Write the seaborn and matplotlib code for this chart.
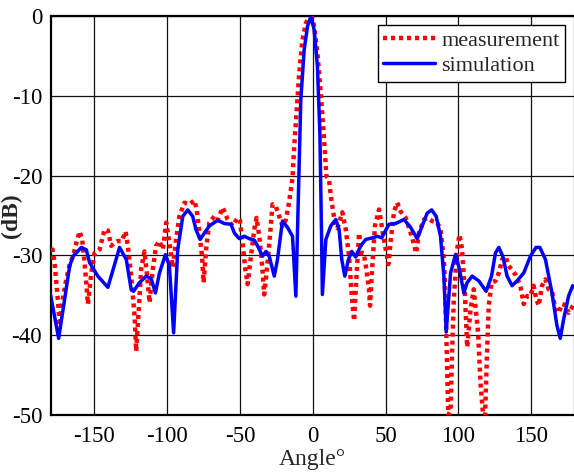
import numpy as np
import pandas as pd
import matplotlib
matplotlib.use("Agg")
import matplotlib.pyplot as plt
import seaborn as sns

# ---- data ----
sim_angle = [-180, -174.4, -166.8, -164.5, -158.8, -155.4, -153.2, -147.5, -140.6, -132.6, -128, -124.6, -123.0,
             -118.9, -114.3, -110.9, -108, -105.2, -101.1, -98.4, -95.5, -92.7, -89.2, -85.8, -82.4, -80.1, -77.3,
             -74.4, -70.9, -65.3, -60.7, -56.1, -53.8, -50.4, -47.0, -43.6, -40.1, -37.9, -34.5, -32.1, -29.9, -26.4,
             -24.2, -20.8, -17.3, -13.9, -11.6, -10.5, -8.2, -5.9, -3.6, -1.3, 1.0, 3.2, 4.9, 6.0, 6.6, 9.0, 12.4,
             15.8, 18.1, 19.9, 22.0, 24.5, 26.8, 29.5, 32.9, 36.4, 40.9, 44.3, 47.3, 52.3, 56.9, 62.6, 67.2, 71.7,
             75.1, 78.6, 81.6, 84.7, 87.7, 90.0, 91.6, 94.6, 98.0, 100.7, 103.7, 106.0, 109.4, 114.0, 119.0, 122.7,
             125.4, 127.7, 130.4, 133.4, 136.8, 140.2, 144.8, 149.4, 153.2, 155.9, 159.7, 164.2, 167.6, 169.9,
             172.2, 175.6, 178.4, 180]
sim_db = [-34.9, -40.4, -31.3, -30.1, -29.0, -29.3, -30.9, -32.6, -34.0, -29.0, -30.5, -34.3, -34.5,
          -33.4, -32.6, -32.9, -34.7, -32.2, -29.9, -31.3, -39.7, -29.3, -25.1, -24.3, -25.1, -26.8, -28.0,
          -27.2, -26.3, -25.6, -26.0, -26.1, -27.2, -27.9, -27.6, -27.9, -28.1, -28.8, -30.1, -29.5, -30.1, -32.6,
          -30.5, -25.7, -26.5, -27.6, -35.1, -27.2, -10.5, -4.25, -1.3, -0.1, -1.75, -6.3, -14.7, -27.1, -34.9,
          -28.0, -26.3, -25.5, -26.75, -30.5, -32.6, -30.5, -29.5, -30.2, -28.8, -28.0, -27.8, -27.6, -27.8,
          -26.1, -26.0, -25.5, -26.5, -27.9, -26.3, -24.7, -24.3, -25.1, -27.6, -32.6, -39.6, -32.2, -29.9,
          -31.75, -34.7, -33.4, -32.6, -33.2, -34.5, -32.6, -29.7, -29.0, -30.1, -32.6, -33.8, -33.2, -32.2,
          -30.1, -29.0, -29.0, -30.5, -34.7, -38.8, -40.4, -38.0, -35.1, -33.8, -34.0]

meas_angle = [-180, -179, -177, -174.8, -173.7, -171.9, -169.6, -166.8, -164.5, -162.2, -160, -158.2, -156.6,
              -154.3, -152, -149.7, -146.3, -142.9, -140.6, -138.3, -136, -133.8, -131, -128.5, -126.9, -124.6,
              -122.3, -121.2, -119.4, -117.8, -115.5, -113.9, -112, -109.8, -107.5, -105.2, -102.9, -100.6, -98.4,
              -96.1, -93.8, -91.5, -88.1, -84.6, -81.2, -79.6, -77.8, -76.0, -74.9, -73.2, -71.0, -67.5, -65.3,
              -61.8, -58.4, -55.0, -51.6, -50, -47.7, -46.3, -44.7, -42.4, -40.1, -38.6, -36.7, -34.9, -33.3,
              -31.0, -29.4, -27.6, -25.3, -23, -20.8, -18.4, -16.2, -13.9, -12.7, -11.2, -9.3, -7.1, -4.7, -2.5,
              -0.6, 1.0, 3.2, 5.5, 7.8, 9.4, 11.2, 12.4, 14.7, 16.9, 20.3, 22.7, 24.9, 26.8, 28.4, 29.9, 31.8,
              33.4, 35.0, 36.8, 38.6, 39.3, 40.9, 42.7, 45.5, 47.7, 50.1, 51.9, 53.5, 55.8, 58.0, 60.3, 63.8,
              67.2, 69.5, 71.0, 72.9, 76.3, 78.6, 82.0, 85.4, 87.7, 90.0, 91.1, 92.3, 93.0, 94.6, 95.7, 96.8,
              99.1, 100.7, 102.5, 104.4, 106, 108.3, 110.5, 113.5, 115.1, 116.9, 118.3, 119.7, 120.8, 122.7,
              125.4, 127.7, 130, 132.3, 134.5, 139.1, 142.5, 144.8, 147.1, 149.3, 151.6, 153.5, 155.1, 157.3,
              159.7, 161.9, 164.2, 166.5, 168.8, 171.0, 173.3, 175.6, 178, 180]
meas_db = [-30.5, -28.8, -31.3, -35.9, -38.8, -35.9, -33.4, -31.1, -30.1, -28.4, -27.0, -28.1, -30.9,
           -36.1, -32.2, -29.7, -29.25, -26.75, -26.9, -28.8, -28.4, -28.2, -28.2, -27.0, -28.8, -32.6,
           -37.6, -42.0, -36.75, -31.75, -29.5, -32.2, -35.9, -31.75, -28.8, -28.2, -29.25, -25.9, -28.4,
           -31.5, -28.0, -25.1, -23.4, -23.6, -23.1, -24.3, -27.2, -30.1, -33.4, -29.25, -25.9, -25.1, -25.6,
           -24.0, -25.5, -26.3, -25.3, -25.6, -29.25, -31.75, -33.6, -30.1, -26.75, -25.3, -27.6, -30.9, -34.9,
           -30.9, -27.6, -23.6, -23.9, -25.1, -26.3, -25.5, -23.3, -20.3, -16.3, -12.2, -7.2, -3.0, -0.9, -0.1,
           -0.2, -1.3, -4.7, -9.7, -15.5, -20.1, -20.5, -22.6, -25.3, -26.6, -24.6, -26.8, -30.1, -35.1, -38.2,
           -33.0, -27.2, -29.7, -29.7, -31.75, -34.25, -36.3, -31.3, -26.3, -24.25, -26.75, -29.25, -31.1,
           -28.2, -24.5, -23.4, -24.5, -25.3, -27.2, -28.6, -29.7, -27.2, -25.5, -25.3, -25.7, -25.9, -26.75,
           -30.5, -35.5, -45.0, -50.0, -49.5, -41.75, -35.5, -29.25, -27.4, -29.25, -34.7, -41.5, -36.75,
           -34.25, -39.7, -45.9, -50.0, -50.0, -41.75, -36.3, -33.4, -33.2, -32.2, -30.5, -30.1, -31.3, -32.4,
           -33.8, -36.1, -35.1, -35.1, -33.8, -35.5, -36.3, -33.8, -33.0, -34.25, -34.5, -36.75, -37.2, -36.1,
           -36.2, -37.2, -36.5, -36.0]

x_ticks = [-150, -100, -50, 0, 50, 100, 150]
y_ticks = [0, -10, -20, -30, -40, -50]

# ---- styling ----
sns.set_style("white")
plt.rcParams['font.family'] = ['Liberation Serif', 'DejaVu Serif']
plt.rcParams['axes.unicode_minus'] = False

fig = plt.figure(figsize=(5.74, 4.73), dpi=100)
ax = fig.add_axes([50.5 / 574, 1 - 415 / 473, (575 - 50.5) / 574, (415 - 16) / 473])

df_meas = pd.DataFrame({"angle": meas_angle, "dB": meas_db})
df_sim = pd.DataFrame({"angle": sim_angle, "dB": sim_db})

sns.lineplot(data=df_meas, x="angle", y="dB", ax=ax, color="red", linewidth=3.2,
             linestyle=(0, (0.9, 0.9)), estimator=None, sort=False, label="measurement", zorder=3)
sns.lineplot(data=df_sim, x="angle", y="dB", ax=ax, color="#0000ff", linewidth=2.5,
             estimator=None, sort=False, label="simulation", zorder=4)

ax.set_xlim(-180, 180)
ax.set_ylim(-50, 0)
ax.set_xticks(x_ticks)
ax.set_yticks(y_ticks)
ax.set_xticklabels([str(v) for v in x_ticks])
ax.set_yticklabels([str(v) for v in y_ticks])
ax.grid(True, color="#111111", linewidth=0.9)
ax.set_axisbelow(True)
ax.tick_params(axis="both", length=0, labelsize=16.5, colors="black")
ax.tick_params(axis="y", pad=6)
ax.tick_params(axis="x", pad=8)
for s in ax.spines.values():
    s.set_color("black")
    s.set_linewidth(1.6)

ax.set_xlabel("Angle°", fontsize=17, labelpad=1)
ax.set_ylabel("(dB)", fontsize=17, fontweight="bold")
ax.yaxis.set_label_coords((22 - 50.5) / 524.5, 0.5)

leg = ax.legend(loc="upper right", bbox_to_anchor=(565 / 574, 1 - 25 / 473),
                bbox_transform=fig.transFigure, borderaxespad=0, fontsize=16,
                frameon=True, fancybox=False, framealpha=1, edgecolor="black",
                handlelength=2.3, handletextpad=0.3, borderpad=0.25, labelspacing=0.2)
leg.get_frame().set_linewidth(1.0)

fig.savefig("out.png", dpi=100)
